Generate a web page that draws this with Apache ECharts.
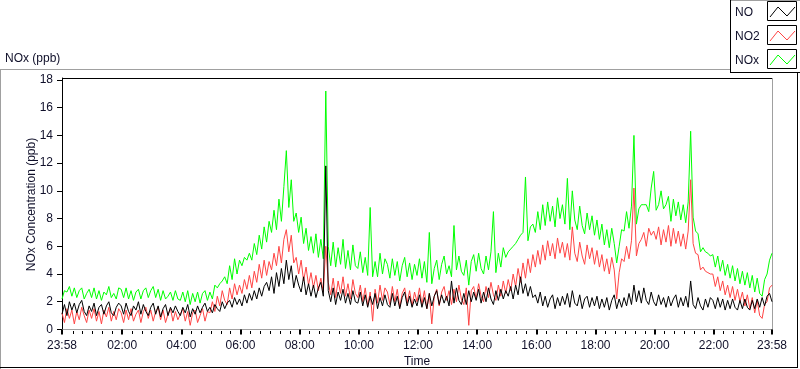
<!DOCTYPE html>
<html><head><meta charset="utf-8">
<script src="https://cdn.jsdelivr.net/npm/echarts@6/dist/echarts.min.js"></script>
<style>html,body{margin:0;padding:0;background:#fff}#c{width:800px;height:369px}</style>
</head><body><div id="c"></div>
<script>
// minutes after 23:58 for each sample (5-minute samples)
const sampleStepMin = 5;
const xTickMinutes = [0,122,242,362,482,602,722,842,962,1082,1202,1322,1440];
const xTickLabels = ['23:58','02:00','04:00','06:00','08:00','10:00','12:00','14:00','16:00','18:00','20:00','22:00','23:58'];
const yTicks = [0,2,4,6,8,10,12,14,16,18];

const NO = [
1.1,1.8,1.0,2.0,1.4,1.9,1.2,1.8,2.1,1.3,1.0,1.7,
1.3,1.9,1.0,1.6,1.8,1.1,1.7,2.0,1.2,1.0,1.6,1.9,
1.7,1.1,1.9,1.3,1.0,1.7,1.4,2.0,1.1,1.8,1.3,1.0,
1.6,1.9,1.1,1.7,0.9,1.5,1.8,1.0,1.6,1.2,1.7,1.3,
1.0,1.6,1.2,1.8,0.9,1.5,1.1,1.7,1.2,1.6,1.9,1.3,
1.6,1.2,1.8,1.5,1.3,2.0,1.5,1.9,2.1,1.6,2.3,1.8,
2.2,1.7,2.5,1.9,2.6,2.1,2.8,2.2,3.0,2.4,3.1,3.4,
2.8,3.8,2.6,4.1,3.1,4.4,3.3,5.0,3.6,4.6,3.0,3.9,
3.2,2.7,3.8,2.5,3.3,2.4,3.2,2.3,3.0,3.4,2.4,11.8,
2.8,2.0,3.0,1.8,2.7,2.1,2.9,1.9,2.6,1.8,2.8,2.0,
1.9,2.7,1.7,2.5,1.6,2.4,1.8,2.6,1.5,2.3,1.7,2.5,
1.8,1.6,2.6,1.7,2.4,1.5,2.3,2.7,1.7,2.4,1.6,2.2,
1.7,2.5,1.6,2.3,1.5,2.6,1.7,2.4,2.8,1.8,2.5,1.9,
2.4,1.7,3.5,1.9,3.0,2.1,1.8,2.6,1.8,2.8,2.0,2.7,
2.1,2.9,1.9,2.7,2.0,3.0,2.2,1.8,2.8,2.1,2.9,2.2,
2.8,2.4,3.1,2.2,3.2,2.5,3.8,2.6,3.3,2.4,3.1,2.3,
2.5,1.9,2.7,1.7,2.4,1.6,2.2,2.5,1.5,2.3,1.7,2.4,
1.8,2.6,1.6,2.8,1.9,1.7,2.5,1.5,2.2,2.4,1.6,2.3,
1.7,2.4,1.5,2.2,1.6,2.3,1.4,2.1,2.5,1.5,2.2,1.6,
2.3,1.7,2.6,1.8,3.2,2.0,2.8,1.9,3.0,2.1,1.8,2.7,
2.0,1.7,2.5,1.8,2.3,1.6,2.4,1.7,2.2,2.5,1.6,2.3,
1.7,2.4,1.6,3.5,1.8,1.5,2.3,1.7,1.4,2.2,1.6,2.3,
2.1,1.5,2.3,1.6,2.2,1.4,2.1,1.5,2.2,1.6,1.4,2.1,
1.5,2.2,1.6,1.4,2.1,1.5,2.2,1.6,2.3,1.7,2.4,2.6,
2.0];

const NO2 = [
1.2,0.5,1.5,0.8,1.4,0.4,1.3,0.7,1.6,1.0,0.5,1.4,
0.8,1.5,0.6,1.3,0.4,1.4,0.9,1.6,0.6,1.3,0.7,1.5,
1.2,0.5,1.4,0.7,1.5,0.6,1.1,1.4,0.5,1.3,1.6,0.8,
1.4,0.6,1.3,1.6,0.7,1.4,0.5,1.1,1.5,0.6,1.3,0.7,
1.1,1.5,0.6,1.3,0.3,1.2,1.4,0.5,1.0,1.5,0.6,1.3,
1.2,2.0,1.3,2.4,1.7,2.8,2.1,1.8,3.0,2.2,3.3,2.5,
3.2,2.6,3.6,2.9,3.9,3.0,4.2,3.4,4.7,3.7,5.0,3.9,
4.9,4.3,5.5,4.6,6.0,4.8,6.5,7.2,5.6,6.8,4.8,5.2,
4.0,5.0,3.5,4.5,3.2,4.1,3.0,3.9,2.8,3.7,2.7,6.0,
3.4,2.5,3.7,2.3,3.5,2.6,3.8,2.4,3.3,2.2,3.6,2.6,
2.3,3.2,2.0,3.0,1.7,2.7,0.6,2.9,1.9,3.2,2.1,3.0,
2.7,1.8,3.1,2.0,2.9,1.6,2.6,3.0,1.9,2.8,1.7,2.7,
2.0,3.0,1.8,2.8,1.5,2.6,0.4,2.4,2.9,1.7,2.7,3.1,
2.1,2.8,1.8,2.9,2.0,3.2,2.2,1.8,3.0,0.3,2.8,3.1,
2.2,3.3,2.4,2.0,3.1,2.3,3.4,2.5,2.1,3.2,2.4,3.5,
2.6,3.6,2.8,4.0,3.1,4.4,3.4,4.8,3.7,5.1,4.1,5.4,
4.5,5.7,4.7,6.1,5.0,6.4,5.3,6.2,5.1,6.6,5.5,6.3,
5.2,6.2,5.0,7.4,5.5,4.9,6.3,5.3,4.7,6.1,5.1,5.9,
4.7,5.7,4.5,5.4,4.2,5.1,4.0,5.2,4.3,2.2,4.1,5.1,
4.9,6.0,5.1,6.4,10.2,5.3,6.2,6.5,7.0,6.0,7.3,6.8,
7.1,6.5,7.4,6.1,7.2,6.3,7.5,6.0,7.3,6.2,7.1,6.0,
6.9,5.8,7.1,10.8,6.2,5.5,5.4,4.3,4.5,4.2,4.1,4.0,
4.0,3.1,3.8,2.8,3.5,2.5,3.2,2.3,3.1,2.1,2.9,2.0,
2.7,1.7,2.5,1.5,2.3,1.2,2.1,1.0,0.8,1.8,2.0,3.0,
3.2];

const NOx = [
2.2,2.8,2.7,3.1,2.4,3.0,2.3,2.8,3.0,2.2,2.6,2.9,
2.3,3.0,2.2,2.8,2.1,2.7,2.5,3.1,2.3,2.6,2.2,3.0,
2.9,2.3,3.0,2.2,2.8,2.1,2.7,2.9,2.2,2.8,3.0,2.3,
2.8,3.1,2.3,2.9,2.1,2.8,2.2,2.4,2.7,2.1,2.8,2.2,
2.1,2.7,2.0,2.8,1.8,2.6,2.0,2.7,1.9,2.6,2.8,2.1,
2.7,2.2,3.2,3.0,3.3,3.5,3.8,3.3,4.6,3.6,5.1,4.0,
5.0,4.6,5.2,5.0,5.5,5.0,6.2,5.4,6.8,5.8,7.4,6.3,
7.8,7.0,8.6,7.2,9.4,7.8,10.3,12.9,8.8,10.8,7.8,8.4,
7.0,8.1,6.2,7.3,5.7,6.7,5.5,6.9,5.2,6.5,5.1,17.2,
6.0,4.6,6.3,4.5,5.9,4.7,6.5,4.4,5.7,4.3,6.1,4.6,
4.4,5.6,4.1,5.2,3.9,8.8,3.8,4.9,3.8,5.5,4.0,5.1,
4.7,3.7,5.1,3.9,4.9,3.5,4.6,5.2,3.8,4.8,3.6,4.7,
3.9,5.1,3.7,4.9,3.4,7.0,3.3,4.4,5.0,3.6,4.7,5.3,
4.0,4.6,3.8,7.5,4.3,5.3,4.2,3.9,5.0,3.2,4.9,5.4,
4.2,5.5,4.4,4.0,5.3,4.3,5.6,8.5,4.1,5.5,4.5,5.9,
5.2,5.6,5.8,6.0,6.2,6.5,6.8,7.0,11.0,6.4,7.4,7.6,
7.0,8.5,7.2,9.0,7.5,9.2,7.8,8.9,7.4,9.5,8.0,9.0,
7.6,10.9,7.2,10.0,7.9,7.2,8.9,7.5,6.9,8.4,7.2,8.2,
6.8,7.9,6.5,7.6,6.1,7.2,5.9,7.3,6.2,4.8,6.0,7.2,
7.1,8.5,7.3,8.9,14.0,7.6,8.7,9.0,9.0,9.0,8.5,10.2,
11.4,8.6,9.0,10.0,8.7,9.0,9.6,7.8,9.4,8.2,9.2,7.9,
9.0,7.7,9.2,14.3,8.1,7.1,6.9,5.6,5.9,5.6,5.5,5.3,
5.4,4.5,5.3,4.2,5.0,3.9,4.7,3.7,4.6,3.5,4.4,3.3,
4.2,3.2,4.1,3.0,3.9,2.7,3.7,2.6,2.4,3.6,4.0,5.0,
5.5];

const seriesNames = ['NO','NO2','NOx'];
const seriesColors = ['#000000','#ff4444','#00ff00'];

function pairs(arr){ return arr.map((v,i)=>[i*sampleStepMin, v]); }
const minorTicks = [];
for (let m = 22; m < 1440; m += 20) minorTicks.push(m);

const FONT = 'Liberation Sans';
const TXT = '#10102a';
const chart = echarts.init(document.getElementById('c'), null, {renderer:'canvas'});

function legendItem(name, color, y){
  return [
    {type:'text', left:735, top:y+6, style:{text:name, font:'12px '+FONT, fill:TXT}},
    {type:'rect', shape:{x:767.5, y:y+0.5, width:29, height:19}, style:{fill:'#fff', stroke:'#000', lineWidth:1}},
    {type:'polyline', shape:{points:[[770,y+16],[778,y+6],[787,y+15],[795,y+6]]}, style:{stroke:color, lineWidth:1, fill:null}}
  ];
}

chart.setOption({
  animation:false,
  backgroundColor:'#fff',
  textStyle:{fontFamily:FONT},
  grid:{left:62, right:28, top:78, bottom:38, containLabel:false, outerBoundsMode:'none'},
  xAxis:[{
    type:'value', min:0, max:1440,
    name:'Time', nameLocation:'middle', nameGap:25, nameMoveOverlap:false,
    nameTextStyle:{fontSize:12, color:TXT, fontFamily:FONT},
    axisLine:{show:true, lineStyle:{color:'#a0a0a0', width:1}},
    axisTick:{show:true, customValues:xTickMinutes, length:5, lineStyle:{color:'#000', width:2}},
    axisLabel:{customValues:xTickMinutes, margin:9, fontSize:12, color:TXT, fontFamily:FONT,
      formatter:(v)=>{const k=xTickMinutes.indexOf(v); return k>=0?xTickLabels[k]:'';}},
    splitLine:{show:false}
  },{
    type:'value', min:0, max:1440, position:'bottom',
    axisLine:{show:false},
    axisTick:{show:true, customValues:minorTicks, length:3, lineStyle:{color:'#000', width:1}},
    axisLabel:{show:false}, splitLine:{show:false}
  }],
  yAxis:{
    type:'value', min:-0.11, max:18.14,
    name:'NOx Concentration (ppb)', nameLocation:'middle', nameGap:24, nameRotate:90, nameMoveOverlap:false,
    nameTextStyle:{fontSize:12, color:TXT, fontFamily:FONT},
    axisLine:{show:true, lineStyle:{color:'#000', width:1}},
    axisTick:{show:true, customValues:yTicks, length:5, lineStyle:{color:'#000'}},
    axisLabel:{customValues:yTicks, margin:9, fontSize:12, color:TXT, fontFamily:FONT},
    splitLine:{show:false}
  },
  series:[
    {name:seriesNames[2], type:'line', data:pairs(NOx), showSymbol:false, lineStyle:{width:1, color:seriesColors[2]}, itemStyle:{color:seriesColors[2]}},
    {name:seriesNames[1], type:'line', data:pairs(NO2), showSymbol:false, lineStyle:{width:1, color:seriesColors[1]}, itemStyle:{color:seriesColors[1]}},
    {name:seriesNames[0], type:'line', data:pairs(NO), showSymbol:false, lineStyle:{width:1, color:seriesColors[0]}, itemStyle:{color:seriesColors[0]}}
  ],
  graphic:[
    {type:'line', shape:{x1:0, y1:69.5, x2:730, y2:69.5}, style:{stroke:'#a0a0a0', lineWidth:1}},
    {type:'line', shape:{x1:0.5, y1:69, x2:0.5, y2:369}, style:{stroke:'#a0a0a0', lineWidth:1}},
    {type:'line', shape:{x1:0, y1:367.5, x2:798, y2:367.5}, style:{stroke:'#000', lineWidth:1}},
    {type:'line', shape:{x1:797.5, y1:72, x2:797.5, y2:368}, style:{stroke:'#000', lineWidth:1}},
    {type:'line', shape:{x1:62, y1:78.5, x2:772, y2:78.5}, style:{stroke:'#000', lineWidth:1}},
    {type:'line', shape:{x1:772.5, y1:78, x2:772.5, y2:331}, style:{stroke:'#a0a0a0', lineWidth:1}},
    {type:'line', shape:{x1:730, y1:0.5, x2:800, y2:0.5}, style:{stroke:'#a0a0a0', lineWidth:1}},
    {type:'line', shape:{x1:730.5, y1:0, x2:730.5, y2:72}, style:{stroke:'#000', lineWidth:1}},
    {type:'line', shape:{x1:730, y1:72.5, x2:800, y2:72.5}, style:{stroke:'#000', lineWidth:1}},
    ...legendItem(seriesNames[0], seriesColors[0], 1),
    ...legendItem(seriesNames[1], seriesColors[1], 25),
    ...legendItem(seriesNames[2], seriesColors[2], 49),
    {type:'text', left:5, top:53, style:{text:'NOx (ppb)', font:'12px '+FONT, fill:TXT}}
  ]
});
</script></body></html>
